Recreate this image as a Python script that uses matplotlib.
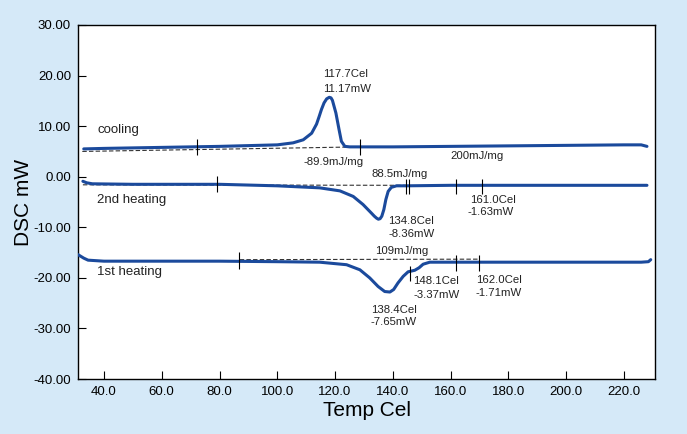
import matplotlib.pyplot as plt

plt.rcParams['font.family'] = ['Liberation Sans', 'DejaVu Sans']

# cooling curve
cool_t = [33, 40, 60, 80, 100, 105.5, 109.0, 111.9, 113.6, 114.5, 115.3, 116.2, 117.1, 118.0,
          118.6, 119.1, 120.3, 121.4, 122.2, 123.4, 125.1, 140, 160, 180, 200, 220, 226, 228]
cool_v = [5.5, 5.6, 5.8, 6.0, 6.3, 6.7, 7.3, 8.6, 10.4, 11.9, 13.3, 14.6, 15.4, 15.7,
          15.6, 15.1, 12.6, 9.3, 7.0, 6.0, 5.9, 5.9, 6.0, 6.1, 6.2, 6.3, 6.3, 6.0]

# 2nd heating curve
heat2_t = [32.7, 34, 36, 50, 80, 100, 114.7, 121.7, 126.3, 129.7, 132.6, 133.6, 134.4, 135.0,
           135.6, 136.2, 136.9, 137.6, 138.4, 139.5, 141.3, 144.7, 160, 180, 200, 228]
heat2_v = [-0.9, -1.2, -1.4, -1.5, -1.5, -1.8, -2.2, -2.8, -3.9, -5.5, -7.2, -7.8, -8.2, -8.4,
           -8.3, -7.8, -6.5, -4.5, -2.9, -2.1, -1.8, -1.8, -1.7, -1.7, -1.7, -1.7]

# 1st heating curve
heat1_t = [31, 33, 34.5, 40, 60, 80, 100, 114.7, 124, 128.6, 132, 134.9, 137.2, 139, 140.3,
           141.8, 143.6, 145.3, 147.6, 149.1, 150.5, 152.8, 156.3, 170, 200, 226, 228.5, 229.3]
heat1_v = [-15.4, -16.1, -16.5, -16.7, -16.7, -16.7, -16.8, -16.9, -17.4, -18.4, -20.0, -21.7,
           -22.7, -22.8, -22.3, -21.0, -19.7, -18.8, -18.5, -18.0, -17.3, -16.9, -16.9, -16.9,
           -16.9, -16.9, -16.8, -16.4]

# dashed baselines (start/end temps and values)
base_cool = ([32.5, 128.6], [5.0, 5.9])
base_h2 = ([32.7, 144.5], [-1.6, -1.7])
base_h1 = ([87.0, 170.0], [-16.4, -16.3])

# analysis markers: temp, low, high
mark_t = [72.2, 128.6, 79.1, 144.5, 145.5, 161.8, 170.8, 86.8, 145.8, 162.0, 170.0]
mark_lo = [4.3, 4.2, -3.0, -3.4, -3.4, -3.4, -3.4, -18.2, -20.7, -18.7, -18.7]
mark_hi = [7.4, 7.4, 0.2, -0.4, -0.4, -0.4, -0.4, -14.8, -17.6, -15.5, -15.5]

# labels: text, temp, value
labels = [
    ("cooling", 37.6, 9.3),
    ("117.7Cel", 115.8, 20.4),
    ("11.17mW", 115.8, 17.3),
    ("-89.9mJ/mg", 109.2, 2.9),
    ("200mJ/mg", 160.0, 4.0),
    ("2nd heating", 37.7, -4.7),
    ("88.5mJ/mg", 132.6, 0.6),
    ("134.8Cel", 138.4, -8.8),
    ("-8.36mW", 138.4, -11.3),
    ("161.0Cel", 166.6, -4.7),
    ("-1.63mW", 166.0, -7.0),
    ("109mJ/mg", 133.8, -14.6),
    ("148.1Cel", 147.0, -20.7),
    ("-3.37mW", 147.0, -23.3),
    ("162.0Cel", 168.7, -20.4),
    ("-1.71mW", 168.5, -22.9),
    ("138.4Cel", 132.4, -26.4),
    ("-7.65mW", 132.4, -28.8),
    ("1st heating", 37.7, -18.9),
]

xticks = [40, 60, 80, 100, 120, 140, 160, 180, 200, 220]
yticks = [30, 20, 10, 0, -10, -20, -30, -40]

bg = '#d5e9f8'
blue = '#1b4a9c'

fig = plt.figure(figsize=(6.87, 4.34), dpi=100, facecolor=bg)
ax = fig.add_axes([0.1135, 0.1267, 0.84, 0.8157])
ax.set_facecolor('white')

for t, v in [base_cool, base_h2, base_h1]:
    ax.plot(t, v, color='#333333', lw=0.8, ls=(0, (4, 2)), zorder=2)

ax.plot(cool_t, cool_v, color=blue, lw=2.2, solid_capstyle='round', solid_joinstyle='round', zorder=3)
ax.plot(heat2_t, heat2_v, color=blue, lw=2.2, solid_capstyle='round', solid_joinstyle='round', zorder=3)
ax.plot(heat1_t, heat1_v, color=blue, lw=2.2, solid_capstyle='round', solid_joinstyle='round', zorder=3)

ax.vlines(mark_t, mark_lo, mark_hi, color='black', lw=0.8, zorder=4)

for txt, t, v in labels:
    fs = 9.5 if 'heating' in txt or txt == 'cooling' else 8.2
    ax.text(t, v, txt, fontsize=fs, ha='left', va='center', color='#222222')

ax.set_xlim(31, 230.8)
ax.set_ylim(-40, 30)
ax.set_xticks(xticks)
ax.set_xticklabels([f"{x:.1f}" for x in xticks])
ax.set_yticks(yticks)
ax.set_yticklabels([f"{y:.2f}" for y in yticks])
ax.tick_params(direction='in', length=6, width=0.8, labelsize=9.5, pad=5)
for s in ax.spines.values():
    s.set_linewidth(1.0)

ax.set_xlabel("Temp Cel", fontsize=15, labelpad=2)
ax.set_ylabel("DSC mW", fontsize=15, labelpad=0)

fig.savefig("out.png", dpi=100, facecolor=bg)
